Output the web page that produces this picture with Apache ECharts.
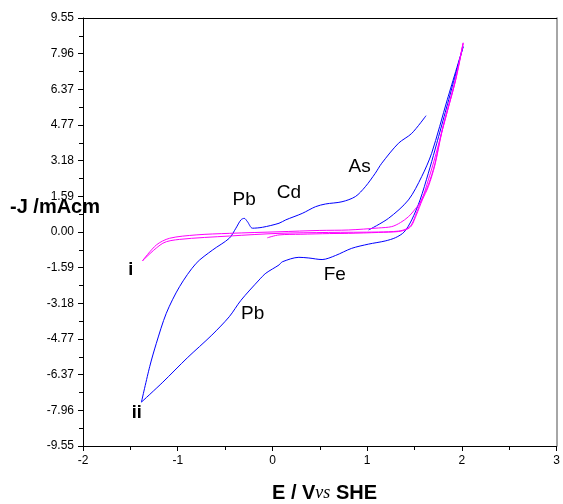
<!DOCTYPE html>
<html>
<head>
<meta charset="utf-8">
<script src="https://cdn.jsdelivr.net/npm/echarts@6/dist/echarts.min.js"></script>
<style>
html, body { margin: 0; padding: 0; background: #fff; }
#main { width: 563px; height: 504px; }
</style>
</head>
<body>
<div id="main"></div>
<script>
// y tick labels as printed on the original
var yTickLabels = ['-9.55', '-7.96', '-6.37', '-4.77', '-3.18', '-1.59', '0.00', '1.59', '3.18', '4.77', '6.37', '7.96', '9.55'];
var xTickLabels = ['-2', '-1', '0', '1', '2', '3'];

// blue CV (ii): start, anodic sweep to 2 V, cathodic back to -1.38 V, then anodic again
var blueE = [1.015, 1.225, 1.435, 1.575, 1.680, 1.845, 2.013,
    1.715, 1.645, 1.558, 1.470, 1.390, 1.300, 1.190, 1.015, 0.836, 0.665, 0.524, 0.384, 0.279, 0.104, 0.069, -0.070, -0.141, -0.333, -0.456, -0.640, -0.900, -1.157, -1.383,
    -1.296, -1.226, -1.121, -0.981, -0.806, -0.631, -0.456, -0.386, -0.333, -0.298, -0.264, -0.211, -0.106, 0.069, 0.140, 0.314, 0.455, 0.560, 0.734, 0.875, 0.980, 1.085, 1.154, 1.330, 1.470, 1.621];
var blueJ = [0.09, 0.61, 1.43, 2.47, 3.51, 5.90, 8.27,
    3.66, 2.62, 1.43, 0.54, 0.00, -0.25, -0.40, -0.54, -0.73, -1.05, -1.23, -1.16, -1.13, -1.33, -1.47, -1.84, -2.14, -3.05, -3.78, -4.60, -5.62, -6.70, -7.59,
    -6.01, -4.97, -3.63, -2.44, -1.40, -0.80, -0.28, 0.17, 0.54, 0.61, 0.46, 0.17, 0.21, 0.39, 0.54, 0.83, 1.13, 1.25, 1.35, 1.58, 2.02, 2.62, 3.07, 3.96, 4.40, 5.19];

// magenta CV (i)
var pinkE = [-0.055, 0.069, 0.300, 0.600, 0.805, 1.120, 1.330, 1.414, 1.466, 1.519, 1.582, 1.645, 1.715, 1.785, 1.855, 1.925, 2.013,
    1.939, 1.855, 1.782, 1.708, 1.645, 1.575, 1.508, 1.435, 1.351, 1.259, 1.120, 0.805, 0.500, 0.069, -0.456, -0.806, -1.086, -1.226, -1.373,
    -1.157, -0.981, -0.456, 0.069, 0.594, 1.120, 1.330, 1.420, 1.470, 1.520, 1.580, 1.645, 1.715, 1.785, 1.855, 1.925, 2.013];
var pinkJ = [-0.26, -0.13, -0.10, -0.07, -0.06, -0.02, 0.02, 0.11, 0.27, 0.76, 1.43, 2.02, 2.99, 4.40, 5.53, 6.64, 8.42,
    6.87, 5.53, 4.37, 3.21, 2.32, 1.43, 1.03, 0.68, 0.42, 0.24, 0.18, 0.09, 0.07, 0.01, -0.06, -0.13, -0.28, -0.58, -1.29,
    -0.50, -0.33, -0.18, -0.06, -0.02, 0.00, 0.04, 0.15, 0.35, 0.85, 1.50, 2.10, 3.05, 4.45, 5.60, 6.70, 8.45];

// peak / curve annotations
var noteText = ['Pb', 'Cd', 'As', 'Fe', 'Pb', 'i', 'ii'];
var noteE = [-0.298, 0.174, 0.920, 0.658, -0.209, -1.496, -1.433];
var noteJ = [1.45, 1.74, 2.90, -1.92, -3.66, -1.70, -8.08];
var noteBold = [false, false, false, false, false, true, true];

function pairs(xs, ys) {
    var out = [];
    for (var i = 0; i < xs.length; i++) out.push([xs[i], ys[i]]);
    return out;
}

var FONT = 'Liberation Sans, Arial, sans-serif';

var notes = [];
for (var k = 0; k < noteText.length; k++) {
    notes.push({
        value: [noteE[k], noteJ[k]],
        label: {
            formatter: noteText[k],
            color: '#000',
            fontFamily: FONT,
            fontWeight: noteBold[k] ? 'bold' : 'normal',
            fontSize: noteBold[k] ? 18 : 19
        }
    });
}

var yStep = 9.55 / 6;

var myChart = echarts.init(document.getElementById('main'), null, { renderer: 'canvas' });
var option = {
    backgroundColor: '#fff',
    animation: false,
    grid: { left: 83, right: 4, top: 18, bottom: 58 },
    xAxis: [{
        type: 'value', min: -2, max: 3, interval: 1,
        axisLine: { onZero: false, lineStyle: { color: '#000', width: 1 } },
        axisTick: { inside: false, length: 5, lineStyle: { color: '#000' } },
        minorTick: { show: true, splitNumber: 2, length: 4, lineStyle: { color: '#000' } },
        splitLine: { show: false },
        axisLabel: {
            color: '#000', fontFamily: FONT, fontSize: 12, margin: 9,
            formatter: function (v, i) { return xTickLabels[i]; }
        }
    }, {
        type: 'value', position: 'top', min: -2, max: 3,
        axisLine: { show: true, onZero: false, lineStyle: { color: '#000', width: 1 } },
        axisTick: { show: false }, axisLabel: { show: false }, splitLine: { show: false }
    }],
    yAxis: [{
        type: 'value', min: -9.55, max: 9.55, interval: yStep,
        axisLine: { onZero: false, lineStyle: { color: '#000', width: 1 } },
        axisTick: { inside: false, length: 5, lineStyle: { color: '#000' } },
        minorTick: { show: true, splitNumber: 2, length: 4, lineStyle: { color: '#000' } },
        splitLine: { show: false },
        axisLabel: {
            color: '#000', fontFamily: FONT, fontSize: 12, margin: 9,
            formatter: function (v, i) { return yTickLabels[i]; }
        }
    }, {
        type: 'value', position: 'right', min: -9.55, max: 9.55,
        axisLine: { show: true, onZero: false, lineStyle: { color: '#888', width: 1.5 } },
        axisTick: { show: false }, axisLabel: { show: false }, splitLine: { show: false }
    }],
    series: [
        {
            name: 'ii', type: 'line', data: pairs(blueE, blueJ),
            showSymbol: false, smooth: 0.3, z: 3,
            lineStyle: { color: '#0000ff', width: 1 }
        },
        {
            name: 'i', type: 'line', data: pairs(pinkE, pinkJ),
            showSymbol: false, smooth: 0.3, z: 4,
            lineStyle: { color: '#ff00ff', width: 1 }
        },
        {
            name: 'notes', type: 'scatter', data: notes, symbolSize: 0, silent: true,
            itemStyle: { opacity: 1 },
            label: { show: true, position: 'inside', color: '#000', fontFamily: FONT }
        }
    ],
    graphic: [
        {
            type: 'text', left: 10, top: 197,
            style: { text: '-J /mAcm', font: 'bold 20px ' + FONT, fill: '#000' }
        },
        {
            type: 'text', left: 272, top: 483,
            style: {
                text: '{a|E / V}{b|vs}{a| SHE}',
                rich: {
                    a: { font: 'bold 20px ' + FONT, fill: '#000' },
                    b: { font: 'italic 18px "Liberation Serif", serif', fill: '#000' }
                }
            }
        }
    ]
};
myChart.setOption(option);
</script>
</body>
</html>
